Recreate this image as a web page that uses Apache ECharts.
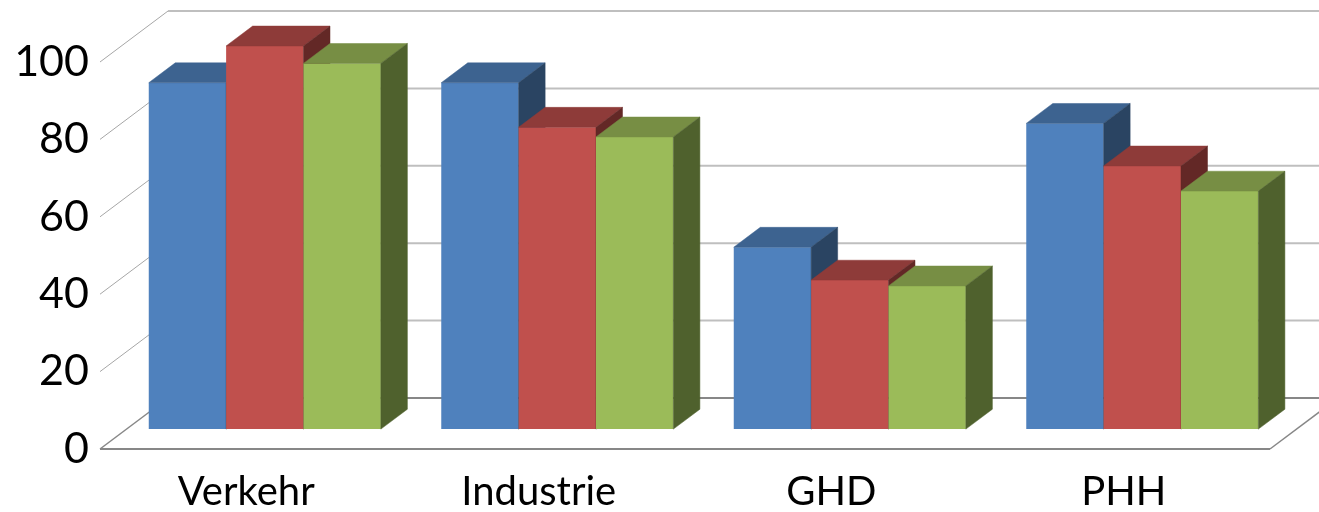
<!DOCTYPE html>
<html>
<head>
<meta charset="utf-8">
<script src="https://cdn.jsdelivr.net/npm/echarts@6/dist/echarts.min.js"></script>
<style>
  html, body { margin: 0; padding: 0; background: #fff; }
  #chart { width: 1319px; height: 512px; }
</style>
</head>
<body>
<div id="chart"></div>
<script>
// categories and values
const categories = ["Verkehr", "Industrie", "GHD", "PHH"];
const seriesBlue = [89.5, 89.5, 47, 79];
const seriesRed = [99, 78, 38.5, 68];
const seriesGreen = [94.5, 75.5, 37, 61.5];
const yTicks = [0, 20, 40, 60, 80, 100];

// 3d look: depth of the whole floor and of one bar (pixels)
const DEPTH_X = 68;
const DEPTH_Y = -51;
const BAR_FRONT = 0.39; // where the bar front sits in the floor depth
const BAR_DEPTH = 0.39;

const colors = [
  { front: "#4F81BD", top: "#3D6390", side: "#2A4462" },
  { front: "#C0504D", top: "#8E3B39", side: "#632826" },
  { front: "#9BBB59", top: "#778E44", side: "#4F612D" },
];

const chartDom = document.getElementById("chart");
const myChart = echarts.init(chartDom);

// walls and floor lines, one item per tick
function renderWall(params, api) {
  const v = api.value(1);
  const cs = params.coordSys;
  const y = api.coord([0, v])[1];
  const x0 = cs.x;
  const x1 = cs.x + cs.width;
  const children = [];
  const isFloor = v === 0;
  const backStyle = isFloor
    ? { stroke: "#878787", lineWidth: 2 }
    : { stroke: "#BFBFBF", lineWidth: 2 };
  const sideStyle = isFloor
    ? { stroke: "#878787", lineWidth: 1.5 }
    : { stroke: "#A6A6A6", lineWidth: 1 };

  // left wall diagonal
  children.push({
    type: "line",
    shape: { x1: x0, y1: y, x2: x0 + DEPTH_X, y2: y + DEPTH_Y },
    style: sideStyle,
  });
  // back wall line
  children.push({
    type: "line",
    shape: { x1: x0 + DEPTH_X, y1: y + DEPTH_Y, x2: x1 + DEPTH_X, y2: y + DEPTH_Y },
    style: backStyle,
  });
  if (isFloor) {
    children.push({
      type: "line",
      shape: { x1: x0, y1: y, x2: x1, y2: y },
      style: { stroke: "#878787", lineWidth: 2 },
    });
    children.push({
      type: "line",
      shape: { x1: x1, y1: y, x2: x1 + DEPTH_X, y2: y + DEPTH_Y },
      style: { stroke: "#878787", lineWidth: 1.5 },
    });
  }
  return { type: "group", children: children };
}

// one 3d bar: front, top and right side
function makeBarRenderer(s) {
  return function (params, api) {
    const i = api.value(0);
    const v = api.value(1);
    const base = api.coord([i, 0]);
    const topPt = api.coord([i, v]);
    const band = api.size([1, 0])[0];
    const w = band * 0.2645;
    const offY = DEPTH_Y * BAR_FRONT;
    const dx = DEPTH_X * BAR_DEPTH;
    const dy = DEPTH_Y * BAR_DEPTH;
    const xL = base[0] - band * 0.3333 + s * w;
    const xR = xL + w;
    const yB = base[1] + offY;
    const yT = topPt[1] + offY;
    const c = colors[s];
    return {
      type: "group",
      children: [
        {
          type: "polygon",
          shape: { points: [[xL, yT], [xR, yT], [xR, yB], [xL, yB]] },
          style: { fill: c.front },
        },
        {
          type: "polygon",
          shape: { points: [[xL, yT], [xR, yT], [xR + dx, yT + dy], [xL + dx, yT + dy]] },
          style: { fill: c.top, stroke: c.top, lineWidth: 0.5 },
        },
        {
          type: "polygon",
          shape: { points: [[xR, yT], [xR + dx, yT + dy], [xR + dx, yB + dy], [xR, yB]] },
          style: { fill: c.side, stroke: c.side, lineWidth: 0.5 },
        },
      ],
    };
  };
}

const allSeries = [seriesBlue, seriesRed, seriesGreen];

const option = {
  animation: false,
  grid: {
    left: 100,
    right: 49,
    top: 62,
    bottom: 61,
  },
  xAxis: {
    type: "category",
    data: categories,
    axisLine: { show: false },
    axisTick: { show: false },
    axisLabel: {
      fontFamily: "Lato",
      fontSize: 40,
      color: "#000",
      margin: 23,
    },
  },
  yAxis: {
    type: "value",
    min: 0,
    max: 100,
    interval: 20,
    axisLine: { show: false },
    axisTick: { show: false },
    splitLine: { show: false },
    axisLabel: {
      fontFamily: "Lato",
      fontSize: 43,
      color: "#000",
      margin: 11,
    },
  },
  series: [
    {
      type: "custom",
      z: 1,
      silent: true,
      renderItem: renderWall,
      data: yTicks.map((t) => [0, t]),
    },
  ].concat(
    allSeries.map((vals, s) => ({
      type: "custom",
      z: 2,
      renderItem: makeBarRenderer(s),
      data: vals.map((v, i) => [i, v]),
    }))
  ),
};

myChart.setOption(option);
</script>
</body>
</html>
